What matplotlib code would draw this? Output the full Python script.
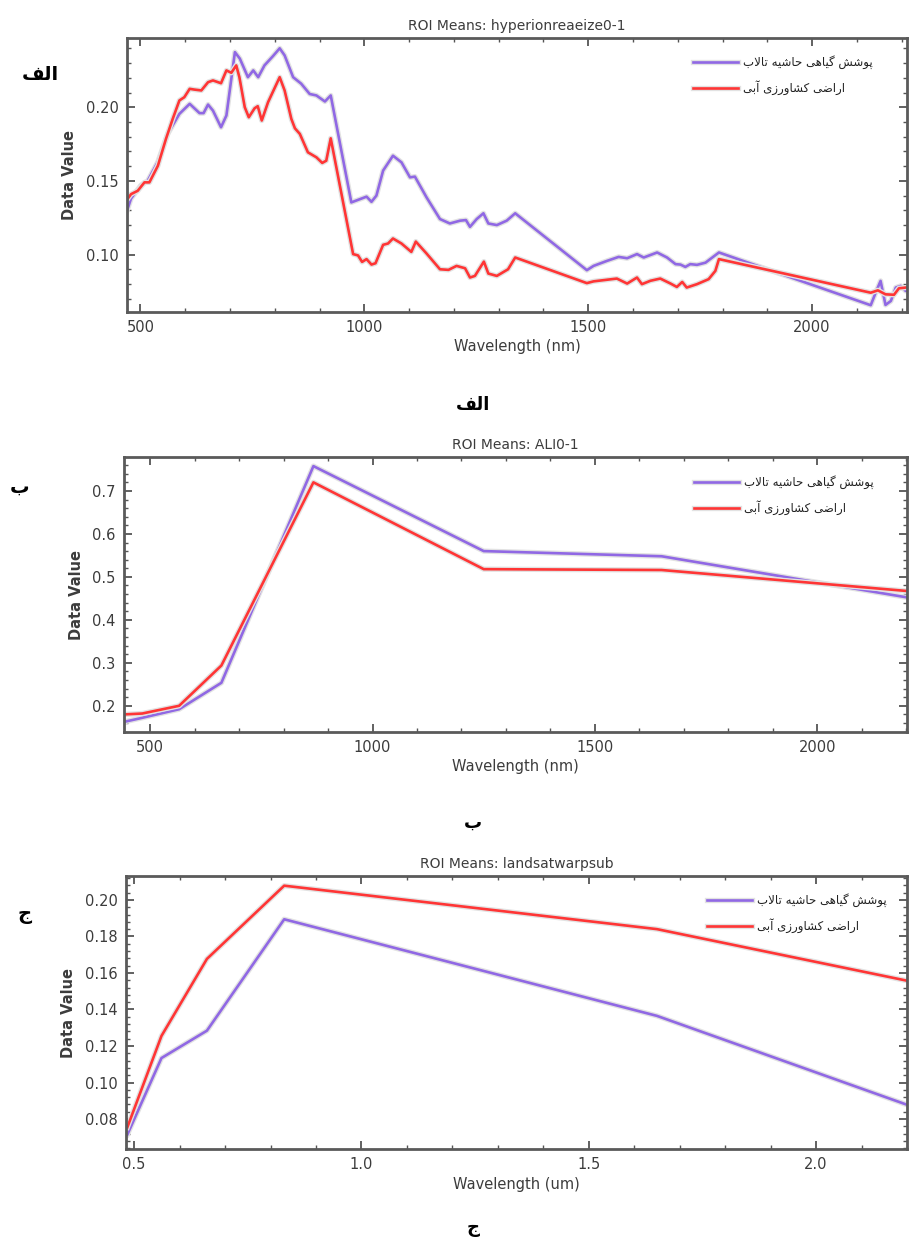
import numpy as np
import matplotlib
matplotlib.use('Agg')
import matplotlib.pyplot as plt
import matplotlib.patheffects as pe
from matplotlib.ticker import MultipleLocator

# --- data ---
hyp_wl_purple = [467, 479, 501, 516, 539, 561, 587, 610, 632, 641, 651, 662, 680, 692, 711, 722, 740, 752,
                 763, 777, 796, 811, 822, 841, 859, 878, 893, 912, 925, 971, 1005, 1016, 1027, 1042, 1064,
                 1083, 1102, 1113, 1139, 1169, 1191, 1214, 1227, 1236, 1251, 1266, 1277, 1296, 1318, 1337,
                 1497, 1512, 1542, 1568, 1587, 1609, 1624, 1654, 1676, 1695, 1706, 1717, 1728, 1743, 1762,
                 1792, 2131, 2142, 2153, 2164, 2176, 2187, 2198, 2209, 2220]
hyp_purple = [0.127, 0.138, 0.147, 0.150, 0.163, 0.182, 0.1955, 0.2023, 0.196, 0.196, 0.2018, 0.1977, 0.1864,
              0.1944, 0.2374, 0.233, 0.2204, 0.225, 0.2204, 0.2284, 0.2347, 0.240, 0.2352, 0.2204, 0.216,
              0.209, 0.208, 0.2039, 0.208, 0.1354, 0.1393, 0.1358, 0.140, 0.157, 0.1671, 0.1626, 0.1524,
              0.1529, 0.1388, 0.1241, 0.1211, 0.123, 0.1234, 0.1188, 0.1241, 0.128, 0.1211, 0.120, 0.123,
              0.128, 0.0894, 0.0923, 0.0957, 0.0984, 0.0975, 0.1003, 0.098, 0.1014, 0.098, 0.0935, 0.0932,
              0.0916, 0.0935, 0.093, 0.0945, 0.1014, 0.0656, 0.0741, 0.0821, 0.0658, 0.0685, 0.0776, 0.0787,
              0.0753, 0.076]
hyp_wl_red = [467, 479, 494, 509, 520, 539, 557, 572, 587, 598, 610, 620, 636, 651, 662, 680, 692, 703, 714,
              721, 733, 742, 755, 762, 771, 785, 811, 822, 837, 845, 856, 874, 893, 906, 915, 925, 975, 986,
              995, 1005, 1016, 1025, 1042, 1053, 1064, 1083, 1105, 1115, 1139, 1169, 1188, 1206, 1225, 1236,
              1247, 1267, 1277, 1296, 1321, 1337, 1497, 1512, 1564, 1587, 1609, 1620, 1639, 1661, 1684, 1698,
              1710, 1720, 1743, 1769, 1784, 1792, 2131, 2147, 2164, 2183, 2194, 2216]
hyp_red = [0.136, 0.141, 0.1433, 0.149, 0.149, 0.1603, 0.1785, 0.192, 0.2046, 0.2068, 0.2125, 0.212, 0.2114,
           0.217, 0.2182, 0.2163, 0.225, 0.2234, 0.2284, 0.2204, 0.200, 0.1932, 0.1993, 0.2007, 0.191, 0.2034,
           0.2204, 0.2114, 0.1921, 0.1857, 0.1819, 0.1694, 0.166, 0.1622, 0.1637, 0.1789, 0.1003, 0.0994,
           0.095, 0.0969, 0.0932, 0.0941, 0.1066, 0.1075, 0.1109, 0.1075, 0.1018, 0.1088, 0.1007, 0.090,
           0.0896, 0.0923, 0.0907, 0.0844, 0.0855, 0.0952, 0.0871, 0.0855, 0.090, 0.098, 0.0806, 0.0818,
           0.0837, 0.0803, 0.0844, 0.0799, 0.0822, 0.0837, 0.0803, 0.078, 0.0814, 0.0776, 0.0799, 0.0833,
           0.0889, 0.0969, 0.0741, 0.0757, 0.073, 0.0727, 0.0771, 0.0778]

ali_wl = [443, 482, 565, 660, 867, 1250, 1650, 2215]
ali_purple = [0.163, 0.172, 0.192, 0.2535, 0.7578, 0.560, 0.548, 0.450]
ali_red = [0.180, 0.182, 0.200, 0.2937, 0.720, 0.518, 0.516, 0.466]

tm_wl = [0.485, 0.56, 0.66, 0.83, 1.65, 2.215]
tm_purple = [0.0715, 0.1134, 0.1284, 0.1894, 0.1365, 0.0865]
tm_red = [0.0755, 0.1255, 0.1677, 0.2078, 0.184, 0.155]

label_purple_fa = 'پوشش گیاهی حاشیه تالاب'
label_red_fa = 'اراضی کشاورزی آبی'
titles = ['ROI Means: hyperionreaeize0-1', 'ROI Means: ALI0-1', 'ROI Means: landsatwarpsub']
xlabels = ['Wavelength (nm)', 'Wavelength (nm)', 'Wavelength (um)']
captions = ['الف', 'ب', 'ج']

PURPLE = '#9068e4'
RED = '#ff3535'
GREY = '#3c3c3c'

# --- matplotlib has no arabic shaping, do it by hand ---
FORMS = {
    'ا': ('\uFE8D', '\uFE8E', None, None),
    'آ': ('\uFE81', '\uFE82', None, None),
    'ب': ('\uFE8F', '\uFE90', '\uFE91', '\uFE92'),
    'پ': ('\uFB56', '\uFB57', '\uFB58', '\uFB59'),
    'ت': ('\uFE95', '\uFE96', '\uFE97', '\uFE98'),
    'ج': ('\uFE9D', '\uFE9E', '\uFE9F', '\uFEA0'),
    'ح': ('\uFEA1', '\uFEA2', '\uFEA3', '\uFEA4'),
    'ر': ('\uFEAD', '\uFEAE', None, None),
    'ز': ('\uFEAF', '\uFEB0', None, None),
    'ش': ('\uFEB5', '\uFEB6', '\uFEB7', '\uFEB8'),
    'ض': ('\uFEBD', '\uFEBE', '\uFEBF', '\uFEC0'),
    'ف': ('\uFED1', '\uFED2', '\uFED3', '\uFED4'),
    'ک': ('\uFB8E', '\uFB8F', '\uFB90', '\uFB91'),
    'گ': ('\uFB92', '\uFB93', '\uFB94', '\uFB95'),
    'ل': ('\uFEDD', '\uFEDE', '\uFEDF', '\uFEE0'),
    'ه': ('\uFEE9', '\uFEEA', '\uFEEB', '\uFEEC'),
    'و': ('\uFEED', '\uFEEE', None, None),
    'ی': ('\uFBFC', '\uFBFD', '\uFBFE', '\uFBFF'),
}
LAM_ALEF = {'ا': ('\uFEFB', '\uFEFC'), 'آ': ('\uFEF5', '\uFEF6')}


def shape_fa(text):
    chars = list(text)
    out = []
    i = 0
    while i < len(chars):
        c = chars[i]
        if c not in FORMS:
            out.append(c)
            i += 1
            continue
        prev = chars[i - 1] if i > 0 else ' '
        joins_prev = prev in FORMS and FORMS[prev][2] is not None
        if c == 'ل' and i + 1 < len(chars) and chars[i + 1] in LAM_ALEF:
            lig = LAM_ALEF[chars[i + 1]]
            out.append(lig[1] if joins_prev else lig[0])
            i += 2
            continue
        nxt = chars[i + 1] if i + 1 < len(chars) else ' '
        joins_next = FORMS[c][2] is not None and nxt in FORMS
        iso, fin, ini, med = FORMS[c]
        if joins_prev and joins_next:
            out.append(med)
        elif joins_prev:
            out.append(fin)
        elif joins_next:
            out.append(ini)
        else:
            out.append(iso)
        i += 1
    return ''.join(reversed(out))


plt.rcParams['font.family'] = ['DejaVu Sans']
W, H = 909, 1238
fig = plt.figure(figsize=(W / 100, H / 100), dpi=100)


def px_axes(left, right, top, bottom):
    return fig.add_axes([left / W, 1 - bottom / H, (right - left) / W, (bottom - top) / H])


halo = [pe.Stroke(linewidth=3.8, foreground='#e2e2e2'), pe.Normal()]


def style_panel(ax, title, xlabel, xlim, ylim, xmaj, xmin, ymaj, ymin, yfmt, legend_anchor):
    ax.set_xlim(*xlim)
    ax.set_ylim(*ylim)
    ax.xaxis.set_major_locator(MultipleLocator(xmaj))
    ax.xaxis.set_minor_locator(MultipleLocator(xmin))
    ax.yaxis.set_major_locator(MultipleLocator(ymaj))
    ax.yaxis.set_minor_locator(MultipleLocator(ymin))
    ax.yaxis.set_major_formatter(yfmt)
    ax.tick_params(which='both', direction='in', top=True, right=True, color='#555555',
                   labelcolor=GREY, labelsize=10.5)
    ax.tick_params(which='major', length=6, width=1.3, pad=6)
    ax.tick_params(which='minor', length=3, width=1.0)
    for s in ax.spines.values():
        s.set_linewidth(2.0)
        s.set_color('#5a5a5a')
    ax.set_title(title, fontsize=10, color=GREY, pad=6)
    ax.set_xlabel(xlabel, fontsize=10.5, color=GREY, labelpad=3)
    ax.set_ylabel('Data Value', fontsize=10.5, color=GREY, fontweight='bold', labelpad=6)
    leg = ax.legend(loc='upper left', bbox_to_anchor=legend_anchor, frameon=False, fontsize=8.5,
                    handlelength=3.8, handletextpad=0.4, labelspacing=0.95, borderaxespad=0)
    for t in leg.get_texts():
        t.set_color('#222222')


# panel الف : hyperion
ax1 = px_axes(127, 907, 38, 312)
ax1.plot(hyp_wl_purple, hyp_purple, color=PURPLE, lw=1.9, path_effects=halo, label=shape_fa(label_purple_fa))
ax1.plot(hyp_wl_red, hyp_red, color=RED, lw=1.9, path_effects=halo, label=shape_fa(label_red_fa))
style_panel(ax1, titles[0], xlabels[0], (470, 2212), (0.061, 0.247), 500, 100, 0.05, 0.01,
            '{x:.2f}', (0.72, 0.955))

# panel ب : ALI
ax2 = px_axes(124, 907, 457, 732)
ax2.plot(ali_wl, ali_purple, color=PURPLE, lw=1.9, path_effects=halo, label=shape_fa(label_purple_fa))
ax2.plot(ali_wl, ali_red, color=RED, lw=1.9, path_effects=halo, label=shape_fa(label_red_fa))
style_panel(ax2, titles[1], xlabels[1], (441, 2202), (0.139, 0.779), 500, 100, 0.1, 0.02,
            '{x:.1f}', (0.722, 0.95))

# panel ج : landsat
ax3 = px_axes(126, 907, 876, 1149)
ax3.plot(tm_wl, tm_purple, color=PURPLE, lw=1.9, path_effects=halo, label=shape_fa(label_purple_fa))
ax3.plot(tm_wl, tm_red, color=RED, lw=1.9, path_effects=halo, label=shape_fa(label_red_fa))
style_panel(ax3, titles[2], xlabels[2], (0.482, 2.2), (0.0636, 0.2131), 0.5, 0.1, 0.02, 0.004,
            '{x:.2f}', (0.738, 0.955))
ax3.xaxis.set_major_formatter('{x:.1f}')

# captions under each panel and the letters at the left
cap_y = [405, 823, 1228]
for txt, y in zip(captions, cap_y):
    fig.text(473 / W, 1 - y / H, shape_fa(txt), ha='center', va='center', fontsize=13,
             fontweight='bold', color='black')

side_pos = [(40, 75), (20, 487), (25, 914)]
for txt, (x, y) in zip(captions, side_pos):
    fig.text(x / W, 1 - y / H, shape_fa(txt), ha='center', va='center', fontsize=14,
             fontweight='bold', color='black')

fig.savefig('out.png', dpi=100)
